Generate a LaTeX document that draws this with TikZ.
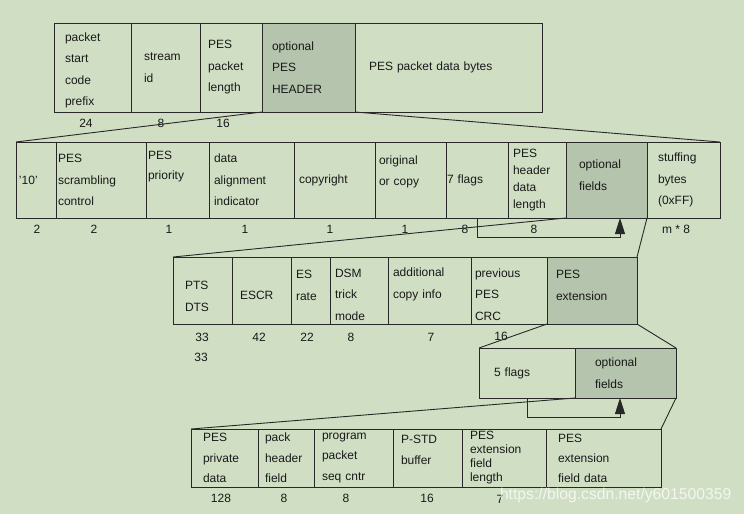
\documentclass[tikz,border=0pt]{standalone}
\usepackage{fontspec}
\setmainfont{Liberation Sans}
\usetikzlibrary{arrows.meta}
\definecolor{pesbg}{RGB}{208,223,196}
\definecolor{pesdark}{RGB}{181,196,172}
\definecolor{pesline}{RGB}{40,40,40}

\begin{document}
\begin{tikzpicture}[x=1pt,y=-1pt,
  every node/.style={font=\fontsize{12}{21.5}\selectfont, inner sep=0pt, outer sep=0pt, text=black!90},
  cell/.style={draw=pesline, line width=0.9pt, anchor=north west, align=left, fill=pesbg},
  opt/.style={cell, fill=pesdark},
  celltext/.style={align=left, anchor=center},
  link/.style={draw=pesline, line width=0.9pt},
  back/.style={link, -{Triangle[width=10pt,length=16pt]}}]
\fill [pesbg] (0,0) rectangle (744,514);
\useasboundingbox (0,0) rectangle (744,514);
\node[cell, minimum width=77, minimum height=89, label={[celltext, text width=55pt, yshift=-3pt]center:packet\\start\\code\\prefix}] (prefix) at (54,23) {};
\node[cell, minimum width=69, minimum height=89, text width=43pt, inner xsep=13pt] (streamid) at (131,23) {stream\\id};
\node[cell, minimum width=62, minimum height=89, text width=46pt, inner xsep=8pt] (pktlen) at (200,23) {PES\\packet\\length};
\node[opt, minimum width=93, minimum height=89, text width=73pt, inner xsep=10pt] (hdr) at (262,23) {optional\\PES\\HEADER};
\node[cell, minimum width=187, minimum height=89, text width=159pt, inner xsep=14pt] (data) at (355,23) {PES packet data bytes};
\node (b24) at (86,123) {24};
\node (b8a) at (161,123) {8};
\node (b16a) at (223,123) {16};
\node[cell, minimum width=40, minimum height=76, text width=34pt, inner xsep=3pt] (ten) at (16,142) {'10'};
\node[cell, minimum width=90, minimum height=76, text width=86pt, inner xsep=2pt] (scramble) at (56,142) {PES\\scrambling\\control};
\node[cell, minimum width=63, minimum height=76, label={[celltext, text width=59pt, yshift=13pt, font=\fontsize{12}{20}\selectfont]center:PES\\priority}] (priority) at (146,142) {};
\node[cell, minimum width=85, minimum height=76, text width=75pt, inner xsep=5pt] (align) at (209,142) {data\\alignment\\indicator};
\node[cell, minimum width=81, minimum height=76, text width=71pt, inner xsep=5pt] (copyr) at (294,142) {copyright};
\node[cell, minimum width=71, minimum height=76, label={[celltext, text width=63pt, yshift=8pt]center:original\\or copy}] (orig) at (375,142) {};
\node[cell, minimum width=62, minimum height=76, text width=60pt, inner xsep=1pt] (flags7) at (446,142) {7 flags};
\node[cell, minimum width=58, minimum height=76, text width=48pt, inner xsep=5pt, font=\fontsize{12}{17}\selectfont] (hdrlen) at (508,142) {PES\\header\\data\\length};
\node[opt, minimum width=81, minimum height=76, label={[celltext, text width=55pt, yshift=5pt]center:optional\\fields}] (optf) at (566,142) {};
\node[cell, minimum width=73, minimum height=76, text width=51pt, inner xsep=11pt] (stuff) at (647,142) {stuffing\\bytes\\(0xFF)};
\node (b2a) at (37,229) {2};
\node (b2b) at (94,229) {2};
\node (b1a) at (169,229) {1};
\node (b1b) at (245,229) {1};
\node (b1c) at (330,229) {1};
\node (b1d) at (405,229) {1};
\node (b8b) at (465,229) {8};
\node (b8c) at (534,229) {8};
\node (bm8) at (676,229) {m * 8};
\node[cell, minimum width=59, minimum height=67, label={[celltext, text width=35pt, yshift=-6pt]center:PTS\\DTS}] (pts) at (173,257) {};
\node[cell, minimum width=59, minimum height=67, label={[celltext, text width=43pt, yshift=-5pt]center:ESCR}] (escr) at (232,257) {};
\node[cell, minimum width=39, minimum height=67, label={[celltext, text width=29pt, yshift=5pt]center:ES\\rate}] (esrate) at (291,257) {};
\node[cell, minimum width=58, minimum height=67, label={[celltext, text width=48pt, yshift=-4pt]center:DSM\\trick\\mode}] (dsm) at (330,257) {};
\node[cell, minimum width=83, minimum height=67, label={[celltext, text width=73pt, yshift=6pt]center:additional\\copy info}] (addcopy) at (388,257) {};
\node[cell, minimum width=76, minimum height=67, label={[celltext, text width=68pt, yshift=-4pt]center:previous\\PES\\CRC}] (crc) at (471,257) {};
\node[opt, minimum width=90, minimum height=67, label={[celltext, text width=72pt, yshift=5pt]center:PES\\extension}] (pesext) at (547,257) {};
\node (b33) at (202,337) {33};
\node (b42) at (259,337) {42};
\node (b22) at (307,337) {22};
\node (b8d) at (351,337) {8};
\node (b7a) at (431,337) {7};
\node (b16b) at (501,336) {16};
\node (b33b) at (201,357) {33};
\node[cell, minimum width=96, minimum height=50, text width=66pt, inner xsep=15pt] (flags5) at (479,348) {5 flags};
\node[opt, minimum width=101, minimum height=50, text width=61pt, inner xsep=20pt] (optf2) at (575,348) {optional\\fields};
\node[cell, minimum width=67, minimum height=58, text width=43pt, inner xsep=12pt, font=\fontsize{12}{20.5}\selectfont] (priv) at (191,429) {PES\\private\\data};
\node[cell, minimum width=56, minimum height=58, text width=42pt, inner xsep=7pt, font=\fontsize{12}{20.5}\selectfont] (pack) at (258,429) {pack\\header\\field};
\node[cell, minimum width=79, minimum height=58, text width=63pt, inner xsep=8pt, font=\fontsize{12}{20.5}\selectfont] (seqcntr) at (314,429) {program\\packet\\seq cntr};
\node[cell, minimum width=69, minimum height=58, label={[celltext, text width=53pt, yshift=8pt, font=\fontsize{12}{20.5}\selectfont]center:P-STD\\buffer}] (pstd) at (393,429) {};
\node[cell, minimum width=84, minimum height=58, text width=68pt, inner xsep=8pt, font=\fontsize{12}{14}\selectfont] (extlen) at (462,429) {PES\\extension\\field\\length};
\node[cell, minimum width=115, minimum height=58, text width=91pt, inner xsep=12pt, font=\fontsize{12}{20}\selectfont] (extdata) at (546,429) {PES\\extension\\field data};
\node (b128) at (221,498) {128};
\node (b8e) at (284,498) {8};
\node (b8f) at (346,498) {8};
\node (b16c) at (427,498) {16};
\node (b7b) at (500,499) {7};
\draw [link] (hdr.south west) -- (ten.north west);
\draw [link] (hdr.south east) -- (stuff.north east);
\draw [link] (optf.south west) -- (pts.north west);
\draw [link] (optf.south east) -- (pesext.north east);
\draw [link] (pesext.south west) -- (flags5.north west);
\draw [link] (pesext.south east) -- (optf2.north east);
\draw [link] (optf2.south west) -- (priv.north west);
\draw [link] (optf2.south east) -- (extdata.north east);
\draw [back] (flags7.south) -- ++(0,19) -| ([xshift=13.5pt]optf.south);
\draw [back] (flags5.south) -- ++(0,19) -| ([xshift=-5.5pt]optf2.south);
\node[anchor=west, font=\fontsize{15.7}{16}\selectfont, text=white, opacity=0.75] (mark) at (500,495) {https://blog.csdn.net/y601500359};
\end{tikzpicture}
\end{document}
